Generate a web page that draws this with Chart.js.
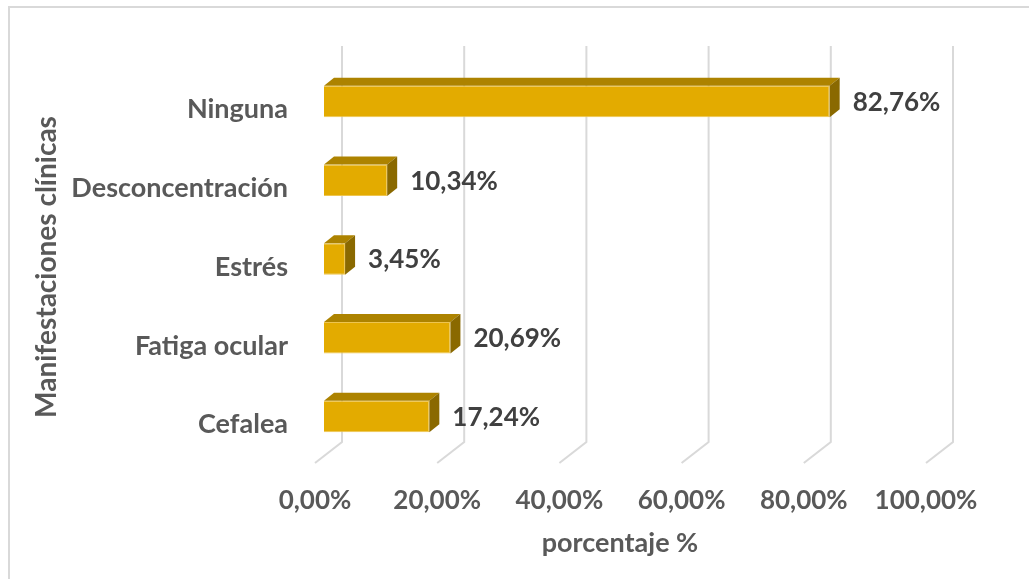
<!DOCTYPE html>
<html lang="es">
<head>
<meta charset="utf-8">
<title>Manifestaciones clínicas</title>
<script src="https://cdn.jsdelivr.net/npm/chart.js@4.4.1/dist/chart.umd.min.js"></script>
<style>
    html, body { margin: 0; padding: 0; background: #ffffff; }
    canvas { display: block; }
</style>
</head>
<body>
<canvas id="grafico" width="1029" height="579"></canvas>
<script>
// Datos del gráfico
const categorias = ['Ninguna', 'Desconcentración', 'Estrés', 'Fatiga ocular', 'Cefalea'];
const porcentajes = [0.8276, 0.1034, 0.0345, 0.2069, 0.1724];
const ticksEjeX = [0, 0.2, 0.4, 0.6, 0.8, 1.0];
const tituloEjeY = 'Manifestaciones clínicas';
const tituloEjeX = 'porcentaje %';

// Estilo
const FUENTE = 'Lato, "Open Sans", sans-serif';
const GRIS_EJE = '#595959';
const GRIS_DATO = '#404040';
const GRIS_REJILLA = '#d9d9d9';
const COLOR_FRENTE = '#E3AB00';
const COLOR_ARRIBA = '#AD8300';
const COLOR_LADO = '#8A6900';

// Profundidad del efecto 3D (px)
const BARRA_DX = 10, BARRA_DY = -8;
const FONDO_DX = 18, PISO_DX = -27, PISO_DY = 21;

// Formato "82,76%"
function formato(v) {
    return (v * 100).toFixed(2).replace('.', ',') + '%';
}

// Plugin que dibuja el marco, la rejilla en perspectiva, las caras 3D y las etiquetas
const efecto3D = {
    id: 'efecto3D',
    beforeDraw(chart) {
        const ctx = chart.ctx;
        ctx.save();
        ctx.fillStyle = '#ffffff';
        ctx.fillRect(0, 0, chart.width, chart.height);
        ctx.strokeStyle = GRIS_REJILLA;
        ctx.lineWidth = 2;
        ctx.strokeRect(9, 7, chart.width + 20, chart.height + 20);
        ctx.restore();
    },
    beforeDatasetsDraw(chart) {
        const ctx = chart.ctx;
        const x = chart.scales.x;
        const area = chart.chartArea;
        const arriba = area.top - 16;
        const abajo = area.bottom - 14;
        ctx.save();
        ctx.strokeStyle = GRIS_REJILLA;
        ctx.lineWidth = 2;
        ticksEjeX.forEach(v => {
            const px = x.getPixelForValue(v) + FONDO_DX;
            ctx.beginPath();
            ctx.moveTo(px, arriba);
            ctx.lineTo(px, abajo);
            ctx.lineTo(px + PISO_DX, abajo + PISO_DY);
            ctx.stroke();
        });
        ctx.restore();
    },
    afterDatasetsDraw(chart) {
        const ctx = chart.ctx;
        const meta = chart.getDatasetMeta(0);
        ctx.save();
        meta.data.forEach((barra, i) => {
            const p = barra.getProps(['x', 'y', 'base', 'height'], true);
            const sup = p.y - p.height / 2;
            const inf = p.y + p.height / 2;
            // cara superior
            ctx.fillStyle = COLOR_ARRIBA;
            ctx.beginPath();
            ctx.moveTo(p.base, sup);
            ctx.lineTo(p.x, sup);
            ctx.lineTo(p.x + BARRA_DX, sup + BARRA_DY);
            ctx.lineTo(p.base + BARRA_DX, sup + BARRA_DY);
            ctx.closePath();
            ctx.fill();
            // cara lateral
            ctx.fillStyle = COLOR_LADO;
            ctx.beginPath();
            ctx.moveTo(p.x, sup);
            ctx.lineTo(p.x + BARRA_DX, sup + BARRA_DY);
            ctx.lineTo(p.x + BARRA_DX, inf + BARRA_DY);
            ctx.lineTo(p.x, inf);
            ctx.closePath();
            ctx.fill();
            // etiqueta del valor
            ctx.fillStyle = GRIS_DATO;
            ctx.font = 'bold 26px ' + FUENTE;
            ctx.textAlign = 'left';
            ctx.textBaseline = 'middle';
            ctx.fillText(formato(porcentajes[i]), p.x + 23, p.y + 1);
        });
        ctx.restore();
    },
    afterDraw(chart) {
        const ctx = chart.ctx;
        ctx.save();
        ctx.fillStyle = GRIS_EJE;
        ctx.textAlign = 'center';
        ctx.textBaseline = 'middle';
        ctx.font = 'bold 27px ' + FUENTE;
        ctx.fillText(tituloEjeX, 620, 543);
        ctx.font = 'bold 28px ' + FUENTE;
        ctx.translate(47, 267);
        ctx.rotate(-Math.PI / 2);
        ctx.fillText(tituloEjeY, 0, 0);
        ctx.restore();
    }
};

const ctx = document.getElementById('grafico').getContext('2d');
const grafico = new Chart(ctx, {
    type: 'bar',
    data: {
        labels: categorias,
        datasets: [{
            label: 'porcentaje',
            data: porcentajes,
            backgroundColor: COLOR_FRENTE,
            borderColor: '#EEC550',
            borderWidth: 1,
            categoryPercentage: 0.4,
            barPercentage: 1
        }]
    },
    options: {
        indexAxis: 'y',
        responsive: false,
        animation: false,
        layout: { padding: { top: 62, right: 94, left: 0, bottom: 0 } },
        plugins: {
            legend: { display: false },
            tooltip: { enabled: false }
        },
        scales: {
            x: {
                min: 0,
                max: 1,
                afterBuildTicks: s => { s.ticks = ticksEjeX.map(v => ({ value: v })); },
                afterFit: s => { s.height = 123; },
                grid: { display: false },
                border: { display: false },
                ticks: {
                    callback: v => formato(v),
                    font: { family: FUENTE, size: 26, weight: 'bold' },
                    color: GRIS_EJE,
                    padding: 21,
                    labelOffset: -9,
                    maxRotation: 0
                }
            },
            y: {
                afterFit: s => { s.width = 324; },
                grid: { display: false },
                border: { display: false },
                ticks: {
                    font: { family: FUENTE, size: 27, weight: 'bold' },
                    color: GRIS_EJE,
                    padding: 28,
                    labelOffset: 8
                }
            }
        }
    },
    plugins: [efecto3D]
});
</script>
</body>
</html>
